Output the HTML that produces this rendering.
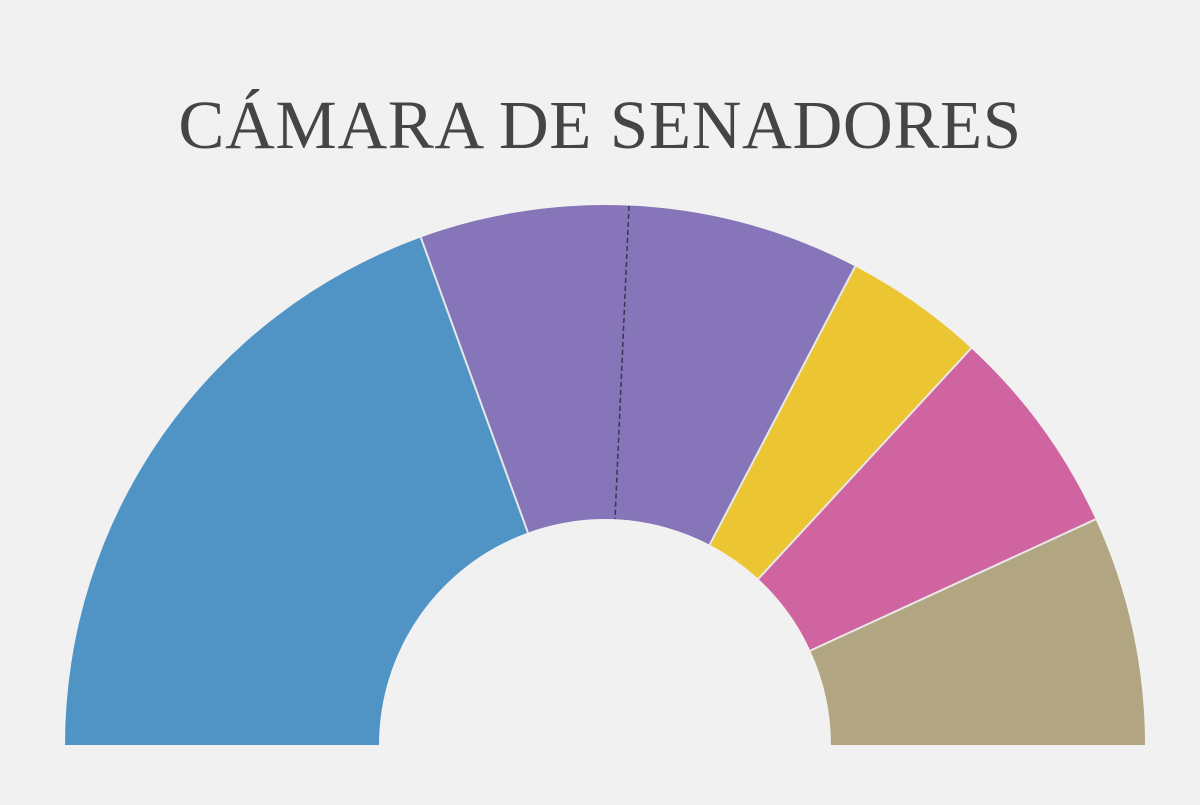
<!DOCTYPE html>
<html><head><meta charset="utf-8"><style>
html,body{margin:0;padding:0;background:#f1f1f1;}
body{width:1200px;height:800px;overflow:hidden;}
</style></head><body>
<svg width="1200" height="800" viewBox="0 0 1200 800" xmlns="http://www.w3.org/2000/svg">
<rect width="1200" height="800" fill="#f1f1f1"/>
<text x="600" y="148" text-anchor="middle" font-family="Liberation Serif, serif" font-size="69" fill="#454545" letter-spacing="0.6">CÁMARA DE SENADORES</text>
<g stroke="none">
<path d="M65,745 A540,540 0 0 1 420.8,237.4 L527.9,532.6 A226,226 0 0 0 379,745 Z" fill="#5094c6"/>
<path d="M420.8,237.4 A540,540 0 0 1 855.2,266.4 L709.7,544.7 A226,226 0 0 0 527.9,532.6 Z" fill="#8675b8"/>
<path d="M855.2,266.4 A540,540 0 0 1 971.2,348.2 L758.3,578.9 A226,226 0 0 0 709.7,544.7 Z" fill="#ebc532"/>
<path d="M971.2,348.2 A540,540 0 0 1 1095.6,519.3 L810.3,650.6 A226,226 0 0 0 758.3,578.9 Z" fill="#d064a0"/>
<path d="M1095.6,519.3 A540,540 0 0 1 1145,745 L831,745 A226,226 0 0 0 810.3,650.6 Z" fill="#b2a582"/>
</g>
<g stroke="#e8e8e8" stroke-width="2">
<line x1="420.8" y1="237.4" x2="527.9" y2="532.6"/>
<line x1="855.2" y1="266.4" x2="709.7" y2="544.7"/>
<line x1="971.2" y1="348.2" x2="758.3" y2="578.9"/>
<line x1="1095.6" y1="519.3" x2="810.3" y2="650.6"/>
</g>
<rect x="0" y="745" width="1200" height="55" fill="#f1f1f1"/>
<line x1="629" y1="206" x2="615" y2="519" stroke="#3a3550" stroke-width="1.5" stroke-dasharray="5,3"/>
</svg>
</body></html>
